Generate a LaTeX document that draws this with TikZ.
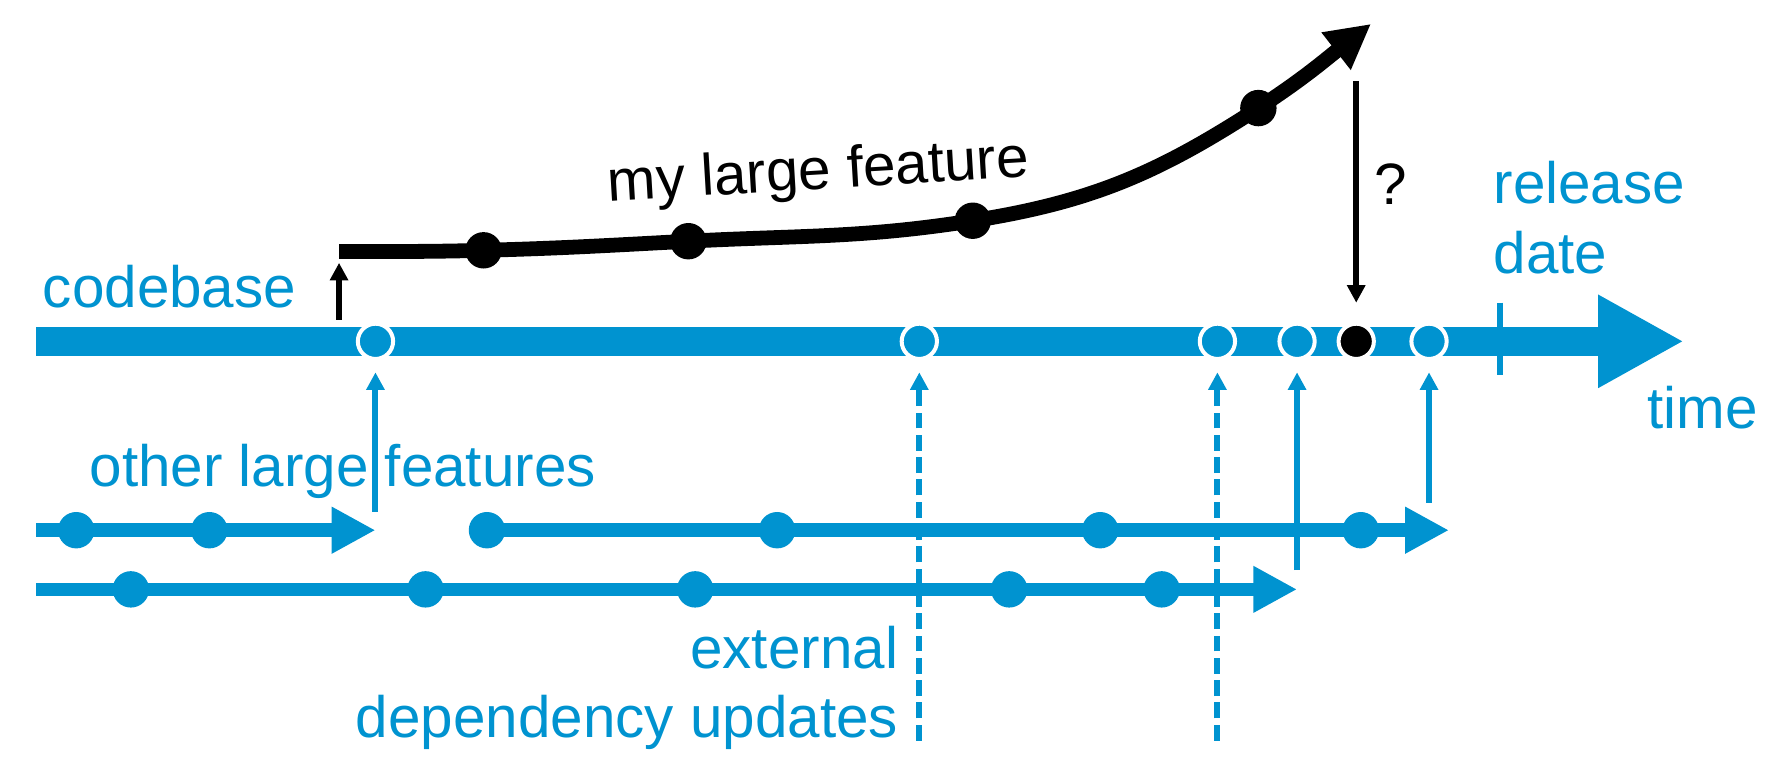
\documentclass[tikz,border=0pt]{standalone}
\usepackage{fontspec}
\setmainfont{Liberation Sans}
\usetikzlibrary{arrows.meta}
\definecolor{cbblue}{RGB}{0,147,208}

\tikzstyle{bluetext} = [text=cbblue, inner sep=0pt, font=\fontsize{14.6}{17.3}\selectfont]
\tikzstyle{blacktext} = [text=black, inner sep=0pt, font=\fontsize{14.6}{17.3}\selectfont]
\tikzstyle{mainbar} = [draw=cbblue, line width=0.255cm, -{Triangle[length=0.755cm, width=0.765cm]}]
\tikzstyle{featline} = [draw=cbblue, line width=0.12cm, -{Triangle[length=0.385cm, width=0.385cm]}]
\tikzstyle{mergeline} = [draw=cbblue, line width=0.053cm, -{Triangle[length=0.155cm, width=0.155cm]}, shorten >=0.1cm]
\tikzstyle{extline} = [mergeline, dash pattern=on 0.14cm off 0.056cm]
\tikzstyle{blackarrow} = [draw=black, line width=0.053cm, -{Triangle[length=0.155cm, width=0.155cm]}]
\tikzstyle{commit} = [circle, fill=cbblue, draw=white, line width=1pt, minimum size=0.31cm, inner sep=0pt]
\tikzstyle{fdot} = [circle, fill=cbblue, minimum size=0.32cm, inner sep=0pt]
\tikzstyle{mydot} = [circle, fill=black, minimum size=0.32cm, inner sep=0pt]

\begin{document}
\begin{tikzpicture}
    \useasboundingbox (0,0) rectangle (15.68,6.69);

    % codebase
    \coordinate (cb0) at (0.32,3.69);
    \coordinate (cb1) at (14.80,3.69);
    \draw [mainbar] (cb0) -- (cb1);
    \coordinate (rd0) at (13.185,4.03);
    \coordinate (rd1) at (13.185,3.39);
    \draw [cbblue, line width=0.047cm] (rd0) -- (rd1);

    \node (m1) [commit] at (3.30,3.69) {};
    \node (m2) [commit] at (8.08,3.69) {};
    \node (m3) [commit] at (10.70,3.69) {};
    \node (m4) [commit] at (11.40,3.69) {};
    \node (mine) [commit, fill=black] at (11.92,3.69) {};
    \node (m5) [commit] at (12.56,3.69) {};

    % other features
    \coordinate (a0) at (0.32,2.03);
    \coordinate (a1) at (3.30,2.03);
    \coordinate (b0) at (4.28,2.03);
    \coordinate (b1) at (12.735,2.03);
    \coordinate (c0) at (0.32,1.51);
    \coordinate (c1) at (11.40,1.51);
    \draw [featline] (a0) -- (a1);
    \draw [featline] (b0) -- (b1);
    \draw [featline] (c0) -- (c1);

    \foreach \x in {0.67,1.84,4.28,6.83,9.67,11.96}
        \node [fdot] at (\x,2.03) {};
    \foreach \x in {1.15,3.74,6.11,8.87,10.21}
        \node [fdot] at (\x,1.51) {};

    \coordinate (u1) at (3.30,2.19);
    \coordinate (u2) at (8.08,0.18);
    \coordinate (u3) at (10.70,0.18);
    \coordinate (u4) at (11.40,1.68);
    \coordinate (u5) at (12.56,2.27);
    \draw [mergeline] (u1) -- (m1);
    \draw [extline] (u2) -- (m2);
    \draw [extline] (u3) -- (m3);
    \draw [mergeline] (u4) -- (m4);
    \draw [mergeline] (u5) -- (m5);

    % my feature
    \coordinate (up0) at (2.98,3.88);
    \coordinate (fs) at (2.98,4.48);
    \coordinate (f1) at (4.25,4.49);
    \coordinate (f2) at (6.05,4.57);
    \coordinate (f3) at (8.55,4.75);
    \coordinate (f4) at (11.06,5.74);
    \coordinate (ft) at (12.05,6.48);
    \draw [blackarrow, shorten >=0.1cm] (up0) -- (fs);
    \draw [black, line width=0.13cm, -{Triangle[length=0.39cm, width=0.39cm]}]
        (fs) to[out=0,in=181.5] (f1) to[out=1.5,in=183] (f2)
        to[out=3,in=189] (f3) to[out=9,in=213] (f4) to[out=33,in=218] (ft);
    \node (d1) [mydot] at (f1) {};
    \node (d2) [mydot] at (f2) {};
    \node (d3) [mydot] at (f3) {};
    \node (d4) [mydot] at (f4) {};

    \coordinate (q0) at (11.92,5.98);
    \draw [blackarrow, shorten >=0.167cm] (q0) -- (mine);

    % labels
    \node (cbl) [bluetext, anchor=base west] at (0.37,3.985) {codebase};
    \node (oth) [bluetext, anchor=base west] at (0.78,2.41) {other large features};
    \node (ext) [bluetext, anchor=base east, align=right] at (7.90,0.21) {external\\dependency updates};
    \node (rel) [bluetext, anchor=base west, align=left] at (13.12,4.29) {release\\date};
    \node (tim) [bluetext, anchor=base west] at (14.475,2.92) {time};
    \node (myf) [blacktext, anchor=base, rotate=3.4] at (7.20,5.03) {my large feature};
    \node (qm) [blacktext, anchor=base] at (12.22,4.89) {?};
\end{tikzpicture}
\end{document}
